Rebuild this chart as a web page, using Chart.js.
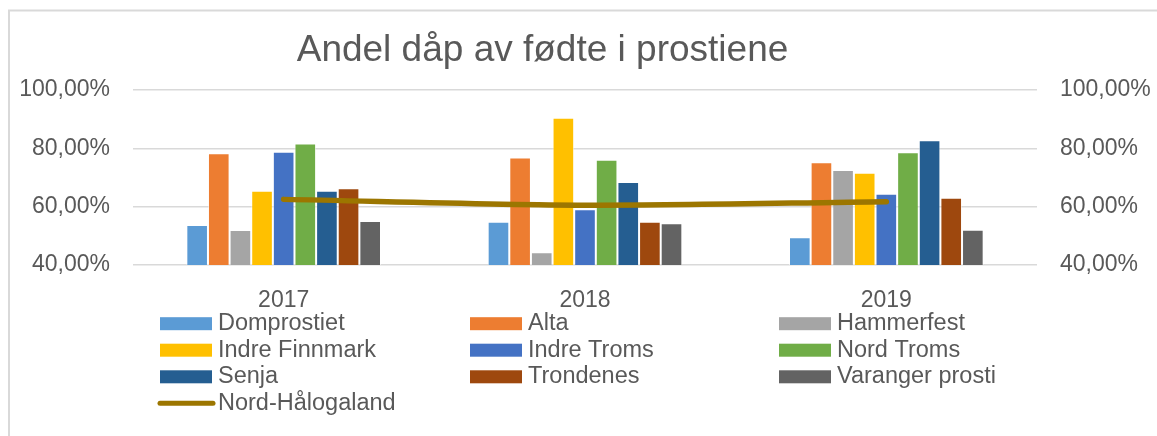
<!DOCTYPE html>
<html>
<head>
<meta charset="utf-8">
<script src="https://cdn.jsdelivr.net/npm/chart.js@4/dist/chart.umd.min.js"></script>
<style>
  html, body { margin: 0; padding: 0; background: #ffffff; }
  #wrap { position: relative; width: 1157px; height: 436px; }
</style>
</head>
<body>
<div id="wrap"><canvas id="c" width="1157" height="436"></canvas></div>
<script>
// ---- Data ----
const chartTitle = 'Andel dåp av fødte i prostiene';
const categories = ['2017', '2018', '2019'];
const yTicks = [40, 60, 80, 100];

const domprostiet    = [53.7, 54.8, 49.5];
const alta           = [78.3, 76.9, 75.2];
const hammerfest     = [52.0, 44.4, 72.6];
const indreFinnmark  = [65.5, 90.5, 71.6];
const indreTroms     = [78.8, 59.1, 64.4];
const nordTroms      = [81.7, 76.1, 78.7];
const senja          = [65.5, 68.5, 82.8];
const trondenes      = [66.3, 54.8, 63.1];
const varangerProsti = [55.1, 54.3, 52.1];
const nordHalogaland = [62.5, 60.5, 61.7];

const barNames = ['Domprostiet', 'Alta', 'Hammerfest', 'Indre Finnmark', 'Indre Troms',
                  'Nord Troms', 'Senja', 'Trondenes', 'Varanger prosti'];
const barValues = [domprostiet, alta, hammerfest, indreFinnmark, indreTroms,
                   nordTroms, senja, trondenes, varangerProsti];
const barColors = ['#5B9BD5', '#ED7D31', '#A5A5A5', '#FFC000', '#4472C4',
                   '#70AD47', '#255E91', '#9E480E', '#636363'];
const lineName = 'Nord-Hålogaland';
const lineColor = '#9C7600';

const FONT = '"Liberation Sans", Arial, Helvetica, sans-serif';
const TEXT = '#595959';
const GRID = '#D9D9D9';

const fmt = v => v.toFixed(2).replace('.', ',') + '%';

const datasets = barNames.map((n, i) => ({
  type: 'bar',
  label: n,
  data: barValues[i],
  backgroundColor: barColors[i],
  borderColor: 'rgba(255,255,255,0.55)',
  borderWidth: 1,
  categoryPercentage: 0.646,
  barPercentage: 1.0,
  yAxisID: 'y',
  order: 1
}));
datasets.push({
  type: 'line',
  label: lineName,
  data: nordHalogaland,
  borderColor: lineColor,
  backgroundColor: lineColor,
  borderWidth: 5.5,
  borderCapStyle: 'round',
  borderJoinStyle: 'round',
  tension: 0.3,
  pointRadius: 0,
  pointHoverRadius: 0,
  yAxisID: 'y',
  order: -1
});

const framePlugin = {
  id: 'frame',
  beforeDraw(chart) {
    const ctx = chart.ctx;
    ctx.save();
    ctx.fillStyle = '#ffffff';
    ctx.fillRect(0, 0, chart.width, chart.height);
    ctx.strokeStyle = GRID;
    ctx.lineWidth = 2;
    ctx.strokeRect(9, 10.5, 1400, 800);
    ctx.restore();
  },
  afterDraw(chart) {
    const ctx = chart.ctx;
    ctx.save();
    // Title
    ctx.fillStyle = TEXT;
    ctx.font = '37px ' + FONT;
    ctx.textAlign = 'center';
    ctx.textBaseline = 'alphabetic';
    ctx.fillText(chartTitle, 542.5, 60.5);
    // Legend grid (3 columns)
    const cols = [160, 470, 779];
    const rows = [323.7, 350.2, 376.8, 403.3];
    ctx.font = '23.5px ' + FONT;
    ctx.textAlign = 'left';
    chart.data.datasets.forEach((ds, i) => {
      const cx = cols[i % 3];
      const cy = rows[Math.floor(i / 3)];
      if (ds.type === 'line') {
        ctx.strokeStyle = ds.borderColor;
        ctx.lineWidth = 5;
        ctx.lineCap = 'round';
        ctx.beginPath();
        ctx.moveTo(cx, cy);
        ctx.lineTo(cx + 53, cy);
        ctx.stroke();
      } else {
        ctx.fillStyle = ds.backgroundColor;
        ctx.fillRect(cx, cy - 6.5, 52, 13);
      }
      ctx.fillStyle = TEXT;
      ctx.fillText(ds.label, cx + 58, cy + 6.5);
    });
    ctx.restore();
  }
};

new Chart(document.getElementById('c'), {
  data: { labels: categories, datasets },
  plugins: [framePlugin],
  options: {
    responsive: false,
    animation: false,
    events: [],
    layout: { padding: { top: 90, bottom: 126, left: 0, right: 0 } },
    plugins: {
      legend: { display: false },
      title: { display: false },
      tooltip: { enabled: false }
    },
    scales: {
      x: {
        type: 'category',
        grid: { display: false },
        border: { display: false },
        ticks: { color: TEXT, font: { family: FONT, size: 23 }, padding: 14 },
        afterFit(s) { s.height = 45; }
      },
      y: {
        position: 'left',
        min: 40, max: 100,
        afterBuildTicks(s) { s.ticks = yTicks.map(v => ({ value: v })); },
        grid: { color: GRID, lineWidth: 1.5, drawTicks: false },
        border: { display: false },
        ticks: { color: TEXT, font: { family: FONT, size: 23 }, padding: 23, callback: v => fmt(v) },
        afterFit(s) { s.width = 133; }
      },
      y2: {
        position: 'right',
        min: 40, max: 100,
        afterBuildTicks(s) { s.ticks = yTicks.map(v => ({ value: v })); },
        grid: { display: false, drawTicks: false },
        border: { display: false },
        ticks: { color: TEXT, font: { family: FONT, size: 23 }, padding: 23, callback: v => fmt(v) },
        afterFit(s) { s.width = 120; }
      }
    }
  }
});
</script>
</body>
</html>
